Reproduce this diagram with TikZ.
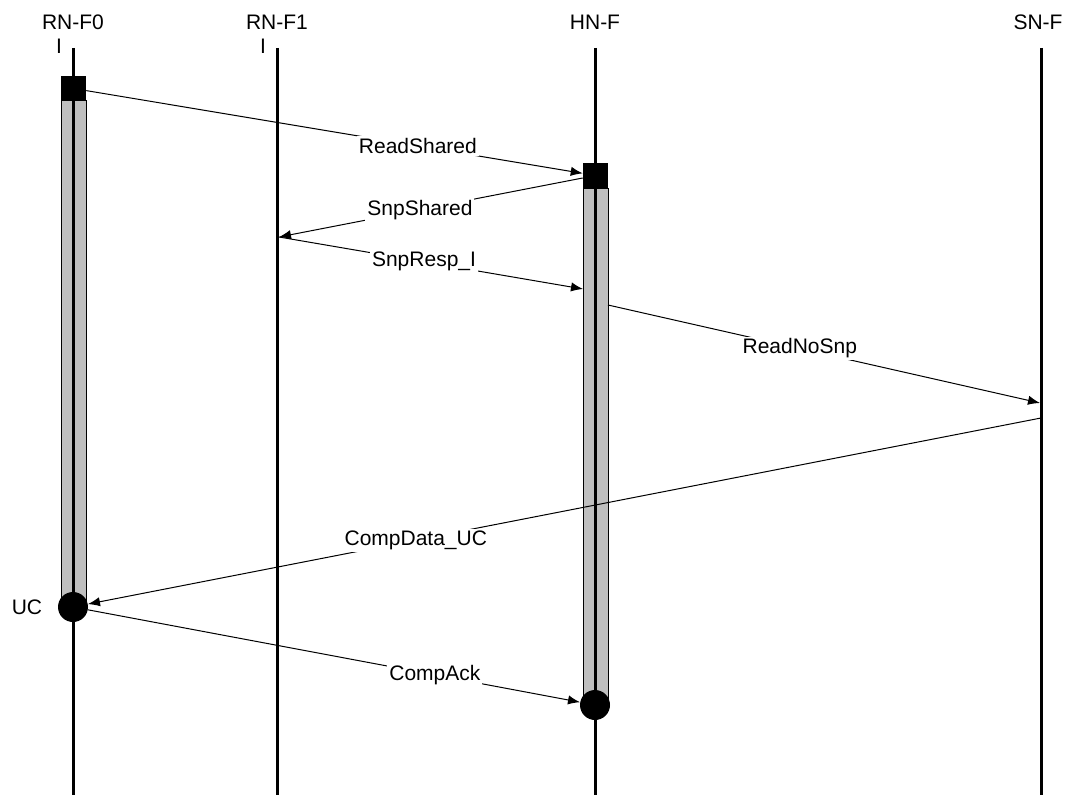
\documentclass[tikz,border=0pt]{standalone}
\usepackage{fontspec}
\setmainfont{Liberation Sans}
\usetikzlibrary{arrows.meta}

\begin{document}
\begin{tikzpicture}[x=0.75pt,y=-0.75pt,
    font=\fontsize{15.75}{18}\selectfont,
    life/.style={line width=2.25pt},
    actbar/.style={fill=black!25,draw=black,line width=0.5pt},
    req/.style={fill=black,inner sep=0pt,minimum size=18.75pt},
    fin/.style={circle,fill=black,inner sep=0pt,minimum size=22.5pt},
    msg/.style={line width=0.75pt,-{Latex[length=9pt,width=7pt]}},
    lbl/.style={fill=white,inner sep=1.5pt}]
    \useasboundingbox (0,0) rectangle (1074,795);

    \node (rnf0) at (73,22.5) {RN-F0};
    \node (rnf1) at (277,22.5) {RN-F1};
    \node (hnf) at (595,22.5) {HN-F};
    \node (snf) at (1038,22.5) {SN-F};
    \node (st0) at (59,46) {I};
    \node (st1) at (263,46) {I};

    \draw[actbar] (61,100) rectangle (86,600);
    \draw[actbar] (583,188) rectangle (608,700);

    \draw[life] (73,48) -- (73,795);
    \draw[life] (277,48) -- (277,795);
    \draw[life] (595,48) -- (595,795);
    \draw[life] (1041,48) -- (1041,795);

    \node[req] (req0) at (73.5,88.5) {};
    \node[req] (req1) at (595.5,175.5) {};
    \node[fin] (uc0) at (73,607) {};
    \node[fin] (done1) at (595,705) {};
    \node (ucst) at (27,607) {UC};

    \coordinate (snp1) at (279,237);
    \coordinate (rsp1) at (583,289);
    \coordinate (rd1) at (608,305);
    \coordinate (rd3) at (1040,403);
    \coordinate (cd3) at (1041,418);

    \draw[msg] (req0) -- node[lbl,pos=.668] {ReadShared} (req1);
    \draw[msg] (req1) -- node[lbl,pos=.536] {SnpShared} (snp1);
    \draw[msg] (snp1) -- node[lbl,pos=.477] {SnpResp\_I} (rsp1);
    \draw[msg] (rd1) -- node[lbl,pos=.444] {ReadNoSnp} (rd3);
    \draw[msg] (cd3) -- node[lbl,pos=.656] {CompData\_UC} (uc0);
    \draw[msg] (uc0) -- node[lbl,pos=.705] {CompAck} (done1);
\end{tikzpicture}
\end{document}
